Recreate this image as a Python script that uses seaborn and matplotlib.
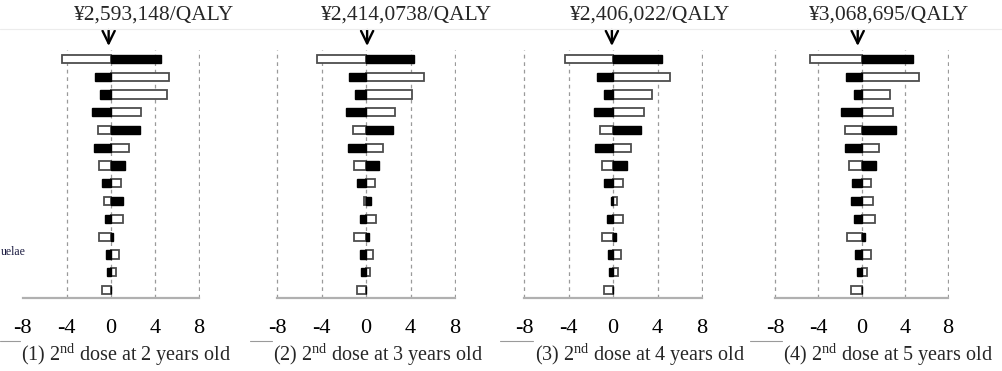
import matplotlib
matplotlib.use("Agg")
import matplotlib.pyplot as plt
import pandas as pd
import seaborn as sns

# 14 parameters of the one-way sensitivity analysis (top to bottom)
params = [f"param_{i}" for i in range(1, 15)]

titles = ["¥2,593,148/QALY", "¥2,414,0738/QALY", "¥2,406,022/QALY", "¥3,068,695/QALY"]
captions = [
    r"(1) 2$^{\mathrm{nd}}$ dose at 2 years old",
    r"(2) 2$^{\mathrm{nd}}$ dose at 3 years old",
    r"(3) 2$^{\mathrm{nd}}$ dose at 4 years old",
    r"(4) 2$^{\mathrm{nd}}$ dose at 5 years old",
]

# change in ICER (x 10^6 yen) - black and white halves of each bar
black_1 = [4.53, -1.45, -1.03, -1.75, 2.66, -1.54, 1.30, -0.82, 1.06, -0.51, 0.24, -0.45, -0.36, 0.0]
white_1 = [-4.44, 5.29, 5.08, 2.75, -1.18, 1.63, -1.06, 0.94, -0.60, 1.06, -1.06, 0.76, 0.48, -0.76]

black_2 = [4.34, -1.53, -1.02, -1.83, 2.46, -1.59, 1.17, -0.84, 0.42, -0.54, 0.27, -0.54, -0.45, 0.0]
white_2 = [-4.37, 5.24, 4.16, 2.60, -1.17, 1.56, -1.11, 0.84, -0.15, 0.87, -1.05, 0.66, 0.39, -0.78]

black_3 = [4.41, -1.45, -0.85, -1.75, 2.51, -1.60, 1.24, -0.85, -0.20, -0.54, 0.24, -0.48, -0.39, 0.0]
white_3 = [-4.32, 5.11, 3.50, 2.75, -1.15, 1.60, -1.00, 0.88, 0.33, 0.91, -1.03, 0.69, 0.45, -0.79]

black_4 = [4.73, -1.40, -0.69, -1.90, 3.18, -1.56, 1.37, -0.84, -0.93, -0.69, 0.31, -0.59, -0.44, 0.0]
white_4 = [-4.73, 5.36, 2.68, 2.87, -1.50, 1.65, -1.18, 0.90, 1.09, 1.25, -1.34, 0.90, 0.50, -1.00]

blacks = [black_1, black_2, black_3, black_4]
whites = [white_1, white_2, white_3, white_4]

# base-case marker position on each panel
arrow_x = [-0.2, 0.1, -0.1, -0.35]

xticks = [-8, -4, 0, 4, 8]
grid_x = [[-4, 0, 4, 8], [-8, -4, 0, 4, 8], [-8, -4, 0, 4, 8], [-8, -4, 0, 4, 8]]

sns.set_style("white")
plt.rcParams["font.family"] = ["Liberation Serif", "DejaVu Serif"]
plt.rcParams["mathtext.fontset"] = "custom"
plt.rcParams["mathtext.rm"] = "Liberation Serif"
plt.rcParams["mathtext.it"] = "Liberation Serif:italic"
plt.rcParams["axes.unicode_minus"] = False

W, H = 1002, 371
fig = plt.figure(figsize=(W / 100, H / 100), dpi=100)

# panel extents in pixels (-8 .. 8)
left_px = [22.7, 277, 524, 775]
right_px = [199, 455, 702, 948]
title_px = [154, 407, 650, 889]
caption_px = [21, 273, 535, 783]
top_px, bottom_px = 50, 298
pad = 0.1

for k in range(4):
    unit = (right_px[k] - left_px[k]) / 16
    l = (left_px[k] - pad * unit) / W
    w = (16 + 2 * pad) * unit / W
    ax = fig.add_axes([l, 1 - bottom_px / H, w, (bottom_px - top_px) / H])

    df = pd.DataFrame({"param": params, "black": blacks[k], "white": whites[k]})
    sns.barplot(data=df, x="white", y="param", orient="h", color="white",
                edgecolor="#4d4d4d", linewidth=1.3, width=0.46, saturation=1,
                errorbar=None, ax=ax, zorder=3)
    sns.barplot(data=df, x="black", y="param", orient="h", color="black",
                edgecolor="black", linewidth=1.0, width=0.46, saturation=1,
                errorbar=None, ax=ax, zorder=3)

    for gx in grid_x[k]:
        ax.axvline(gx, color="#9a9a9a", lw=0.9, ls=(0, (3, 3)), zorder=1)

    ax.set_xlim(-8 - pad, 8 + pad)
    ax.set_ylim(len(params) - 0.55, -0.5)
    ax.set_xticks(xticks)
    ax.set_xticklabels([str(t) for t in xticks])
    ax.set_yticks([])
    ax.set_xlabel("")
    ax.set_ylabel("")
    for s in ["top", "right", "left"]:
        ax.spines[s].set_visible(False)
    ax.spines["bottom"].set_color("#b0b0b0")
    ax.spines["bottom"].set_linewidth(1.6)
    ax.spines["bottom"].set_bounds(-8, 8)
    ax.tick_params(axis="x", direction="inout", length=10, width=1.3,
                   color="#b0b0b0", labelsize=16, pad=10, labelcolor="black")

    # base case arrow
    ax.annotate("", xy=(arrow_x[k], 1 - 46 / H), xytext=(arrow_x[k], 1 - 30 / H),
                xycoords=("data", "figure fraction"), textcoords=("data", "figure fraction"),
                arrowprops=dict(arrowstyle="->,head_length=0.45,head_width=0.22",
                                mutation_scale=20, lw=1.7, color="black",
                                shrinkA=0, shrinkB=0),
                annotation_clip=False)

    fig.text(title_px[k] / W, 1 - 15 / H, titles[k], ha="center", va="center",
             fontsize=15.5)
    fig.text(caption_px[k] / W, 1 - 355 / H, captions[k], ha="left", va="center",
             fontsize=14.5)

# faint frame remnants from the original composite
fig.add_artist(plt.Line2D([0, 1], [1 - 29 / H, 1 - 29 / H], color="#ececec", lw=0.8))
for x0, x1 in [(0, 20), (250, 272), (500, 533), (750, 782)]:
    fig.add_artist(plt.Line2D([x0 / W, x1 / W], [1 - 341 / H, 1 - 341 / H],
                              color="#9a9a9a", lw=0.8))

# remnant of a row label cut off at the left edge
fig.text(1 / W, 1 - 252 / H, "uelae", ha="left", va="center",
         fontsize=8.5, color="#1a1a40")

fig.savefig("out.png", dpi=100)
